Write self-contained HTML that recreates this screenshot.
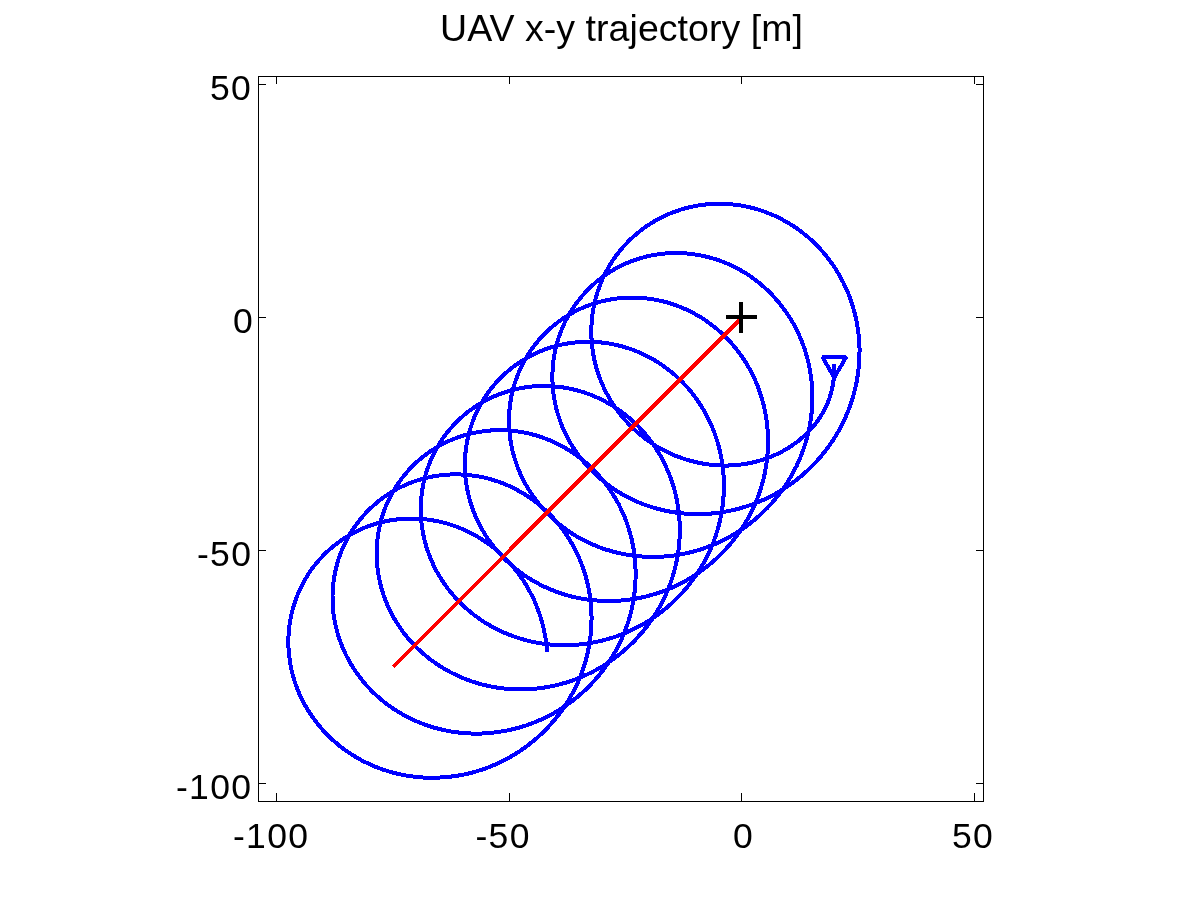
<!DOCTYPE html>
<html>
<head>
<meta charset="utf-8">
<title>UAV x-y trajectory</title>
<style>
html,body{margin:0;padding:0;background:#fff;width:1200px;height:900px;overflow:hidden}
svg{display:block;position:absolute;left:0;top:0}
text{font-family:"Liberation Sans",Arial,Helvetica,sans-serif;fill:#000}
.tick{font-size:35.5px;letter-spacing:1.3px;font-kerning:none}
.title{font-size:37.5px}
</style>
</head>
<body>
<svg width="1200" height="900" viewBox="0 0 1200 900">
<rect x="0" y="0" width="1200" height="900" fill="#fff"/>
<!-- data -->
<g fill="none" shape-rendering="crispEdges" stroke-linejoin="round">
<path stroke="#00f" stroke-width="4" d="M834.4 363.6 L834.4 367.3 L834.3 371.1 L834.1 374.8 L833.8 378.5 L833.3 382.2 L832.7 385.9 L831.9 389.5 L831.0 393.1 L829.9 396.7 L828.7 400.2 L827.3 403.7 L825.7 407.1 L824.1 410.4 L822.2 413.6 L820.3 416.8 L818.2 419.9 L816.0 422.9 L813.7 425.9 L811.3 428.7 L808.8 431.4 L806.1 434.1 L803.4 436.6 L800.6 439.1 L797.7 441.4 L794.7 443.6 L791.7 445.8 L788.5 447.8 L785.4 449.7 L782.1 451.5 L778.8 453.2 L775.4 454.8 L772.0 456.3 L768.5 457.7 L765.0 458.9 L761.5 460.1 L757.9 461.1 L754.3 462.1 L750.7 462.9 L747.0 463.6 L743.4 464.2 L739.7 464.7 L736.0 465.0 L732.2 465.3 L728.5 465.5 L724.8 465.5 L721.1 465.5 L717.4 465.3 L713.6 465.0 L709.9 464.6 L706.2 464.1 L702.6 463.5 L698.9 462.8 L695.3 462.0 L691.7 461.1 L688.1 460.1 L684.5 459.0 L681.0 457.8 L677.5 456.5 L674.0 455.2 L670.6 453.7 L667.3 452.1 L663.9 450.4 L660.7 448.6 L657.4 446.8 L654.2 444.8 L651.1 442.8 L648.1 440.7 L645.1 438.5 L642.1 436.2 L639.2 433.9 L636.4 431.4 L633.7 428.9 L631.0 426.3 L628.4 423.6 L625.8 420.9 L623.4 418.1 L621.0 415.2 L618.7 412.3 L616.5 409.3 L614.4 406.3 L612.3 403.1 L610.3 400.0 L608.5 396.8 L606.7 393.5 L605.0 390.2 L603.4 386.8 L601.9 383.4 L600.5 379.9 L599.2 376.4 L597.9 372.9 L596.8 369.4 L595.8 365.8 L594.9 362.2 L594.1 358.5 L593.4 354.9 L592.8 351.2 L592.3 347.5 L591.9 343.8 L591.6 340.1 L591.4 336.3 L591.3 332.6 L591.3 328.9 L591.5 325.2 L591.7 321.4 L592.1 317.7 L592.5 314.0 L593.1 310.3 L593.8 306.7 L594.5 303.0 L595.4 299.4 L596.4 295.8 L597.5 292.2 L598.7 288.7 L600.0 285.2 L601.4 281.7 L602.8 278.3 L604.4 275.0 L606.1 271.6 L607.9 268.4 L609.8 265.1 L611.8 262.0 L613.8 258.9 L616.0 255.8 L618.3 252.9 L620.6 250.0 L623.0 247.1 L625.5 244.4 L628.1 241.7 L630.7 239.1 L633.5 236.5 L636.3 234.1 L639.2 231.7 L642.1 229.4 L645.1 227.2 L648.2 225.1 L651.3 223.1 L654.5 221.2 L657.8 219.4 L661.0 217.6 L664.4 216.0 L667.8 214.5 L671.2 213.0 L674.7 211.7 L678.2 210.5 L681.8 209.3 L685.3 208.3 L689.0 207.4 L692.6 206.6 L696.2 205.8 L699.9 205.2 L703.6 204.7 L707.3 204.3 L711.0 204.0 L714.7 203.9 L718.5 203.8 L722.2 203.8 L725.9 203.9 L729.6 204.2 L733.3 204.5 L737.0 205.0 L740.7 205.5 L744.4 206.2 L748.0 206.9 L751.6 207.8 L755.2 208.7 L758.8 209.8 L762.4 211.0 L765.9 212.2 L769.3 213.6 L772.8 215.0 L776.2 216.5 L779.5 218.2 L782.8 219.9 L786.1 221.7 L789.3 223.6 L792.4 225.5 L795.6 227.6 L798.6 229.7 L801.6 232.0 L804.5 234.3 L807.4 236.6 L810.2 239.1 L812.9 241.6 L815.6 244.2 L818.2 246.9 L820.8 249.6 L823.2 252.4 L825.6 255.2 L827.9 258.2 L830.2 261.1 L832.4 264.2 L834.5 267.2 L836.5 270.4 L838.4 273.6 L840.3 276.8 L842.0 280.1 L843.7 283.4 L845.3 286.8 L846.8 290.2 L848.3 293.6 L849.6 297.1 L850.9 300.6 L852.1 304.1 L853.2 307.7 L854.2 311.3 L855.1 314.9 L856.0 318.5 L856.7 322.2 L857.4 325.9 L857.9 329.5 L858.4 333.2 L858.8 336.9 L859.1 340.7 L859.3 344.4 L859.5 348.1 L859.5 351.8 L859.4 355.6 L859.3 359.3 L859.1 363.0 L858.8 366.7 L858.4 370.4 L857.9 374.1 L857.3 377.8 L856.7 381.5 L856.0 385.1 L855.1 388.8 L854.2 392.4 L853.2 396.0 L852.2 399.6 L851.0 403.1 L849.8 406.6 L848.5 410.1 L847.1 413.6 L845.6 417.0 L844.0 420.4 L842.4 423.7 L840.7 427.1 L838.9 430.3 L837.1 433.6 L835.2 436.8 L833.2 439.9 L831.1 443.0 L829.0 446.1 L826.7 449.1 L824.5 452.0 L822.1 454.9 L819.7 457.8 L817.3 460.6 L814.7 463.3 L812.1 466.0 L809.5 468.6 L806.8 471.1 L804.0 473.6 L801.2 476.1 L798.3 478.4 L795.4 480.7 L792.4 483.0 L789.3 485.1 L786.3 487.2 L783.1 489.2 L780.0 491.2 L776.7 493.1 L773.5 494.9 L770.2 496.6 L766.8 498.3 L763.5 499.8 L760.1 501.3 L756.6 502.7 L753.1 504.1 L749.6 505.3 L746.1 506.5 L742.5 507.6 L739.0 508.6 L735.4 509.6 L731.7 510.4 L728.1 511.2 L724.4 511.8 L720.7 512.4 L717.1 512.9 L713.4 513.3 L709.6 513.7 L705.9 513.9 L702.2 514.1 L698.5 514.1 L694.8 514.1 L691.0 514.0 L687.3 513.8 L683.6 513.5 L679.9 513.1 L676.2 512.6 L672.5 512.1 L668.9 511.4 L665.2 510.7 L661.6 509.8 L658.0 508.9 L654.4 507.9 L650.8 506.8 L647.3 505.6 L643.8 504.4 L640.3 503.0 L636.9 501.6 L633.5 500.1 L630.1 498.4 L626.8 496.7 L623.5 495.0 L620.3 493.1 L617.1 491.2 L614.0 489.1 L610.9 487.0 L607.9 484.8 L605.0 482.6 L602.1 480.2 L599.2 477.8 L596.5 475.3 L593.7 472.8 L591.1 470.2 L588.5 467.5 L586.0 464.7 L583.6 461.9 L581.3 459.0 L579.0 456.0 L576.8 453.0 L574.7 449.9 L572.7 446.8 L570.8 443.6 L568.9 440.4 L567.2 437.1 L565.5 433.7 L563.9 430.4 L562.4 426.9 L561.1 423.5 L559.8 420.0 L558.6 416.4 L557.5 412.9 L556.5 409.3 L555.6 405.6 L554.9 402.0 L554.2 398.3 L553.6 394.6 L553.2 390.9 L552.8 387.2 L552.6 383.5 L552.4 379.8 L552.4 376.1 L552.5 372.3 L552.7 368.6 L553.0 364.9 L553.4 361.2 L553.9 357.5 L554.5 353.8 L555.3 350.2 L556.1 346.5 L557.1 342.9 L558.1 339.3 L559.3 335.8 L560.6 332.3 L562.0 328.8 L563.4 325.4 L565.0 322.0 L566.7 318.7 L568.5 315.4 L570.4 312.2 L572.4 309.1 L574.4 306.0 L576.6 302.9 L578.9 300.0 L581.2 297.1 L583.6 294.3 L586.2 291.5 L588.8 288.8 L591.4 286.3 L594.2 283.7 L597.0 281.3 L599.9 279.0 L602.9 276.8 L606.0 274.6 L609.1 272.5 L612.2 270.6 L615.4 268.7 L618.7 267.0 L622.1 265.3 L625.4 263.7 L628.9 262.3 L632.3 260.9 L635.8 259.7 L639.4 258.5 L643.0 257.5 L646.6 256.5 L650.2 255.7 L653.9 255.0 L657.5 254.4 L661.2 253.9 L664.9 253.5 L668.6 253.2 L672.4 253.1 L676.1 253.0 L679.8 253.1 L683.5 253.2 L687.2 253.5 L690.9 253.9 L694.6 254.4 L698.3 255.0 L702.0 255.7 L705.6 256.5 L709.2 257.4 L712.8 258.4 L716.4 259.5 L719.9 260.7 L723.4 262.0 L726.8 263.4 L730.2 264.9 L733.6 266.5 L736.9 268.2 L740.2 270.0 L743.4 271.9 L746.6 273.8 L749.7 275.9 L752.7 278.0 L755.7 280.2 L758.7 282.5 L761.5 284.9 L764.3 287.3 L767.1 289.9 L769.7 292.5 L772.3 295.1 L774.9 297.9 L777.3 300.7 L779.7 303.5 L782.0 306.5 L784.2 309.5 L786.4 312.5 L788.5 315.6 L790.5 318.8 L792.4 322.0 L794.2 325.2 L795.9 328.5 L797.6 331.8 L799.2 335.2 L800.6 338.6 L802.0 342.1 L803.4 345.6 L804.6 349.1 L805.7 352.7 L806.8 356.2 L807.7 359.8 L808.6 363.5 L809.4 367.1 L810.0 370.8 L810.6 374.5 L811.2 378.2 L811.6 381.9 L811.9 385.6 L812.1 389.3 L812.3 393.0 L812.3 396.8 L812.3 400.5 L812.2 404.2 L812.0 407.9 L811.7 411.6 L811.3 415.4 L810.8 419.1 L810.2 422.7 L809.6 426.4 L808.9 430.1 L808.0 433.7 L807.1 437.3 L806.1 440.9 L805.0 444.5 L803.9 448.0 L802.6 451.5 L801.3 455.0 L799.9 458.5 L798.4 461.9 L796.9 465.3 L795.2 468.6 L793.5 471.9 L791.7 475.2 L789.8 478.4 L787.9 481.6 L785.9 484.7 L783.8 487.8 L781.6 490.9 L779.4 493.8 L777.1 496.8 L774.7 499.7 L772.3 502.5 L769.8 505.3 L767.2 508.0 L764.6 510.6 L761.9 513.2 L759.2 515.7 L756.4 518.2 L753.5 520.6 L750.6 522.9 L747.7 525.2 L744.7 527.4 L741.6 529.5 L738.5 531.5 L735.3 533.5 L732.1 535.4 L728.9 537.3 L725.6 539.0 L722.3 540.7 L718.9 542.3 L715.5 543.8 L712.1 545.3 L708.6 546.6 L705.1 547.9 L701.6 549.1 L698.0 550.2 L694.5 551.3 L690.9 552.2 L687.2 553.1 L683.6 553.8 L679.9 554.5 L676.3 555.1 L672.6 555.7 L668.9 556.1 L665.2 556.4 L661.5 556.7 L657.7 556.8 L654.0 556.9 L650.3 556.9 L646.6 556.8 L642.9 556.6 L639.1 556.3 L635.4 555.9 L631.7 555.4 L628.1 554.9 L624.4 554.2 L620.7 553.5 L617.1 552.7 L613.5 551.8 L609.9 550.7 L606.4 549.7 L602.8 548.5 L599.3 547.2 L595.9 545.8 L592.4 544.4 L589.0 542.8 L585.7 541.2 L582.4 539.5 L579.1 537.7 L575.9 535.9 L572.7 533.9 L569.6 531.9 L566.5 529.7 L563.5 527.5 L560.6 525.3 L557.7 522.9 L554.9 520.5 L552.1 518.0 L549.4 515.4 L546.8 512.8 L544.2 510.1 L541.7 507.3 L539.3 504.4 L537.0 501.5 L534.8 498.5 L532.6 495.5 L530.5 492.4 L528.5 489.3 L526.6 486.1 L524.8 482.8 L523.1 479.5 L521.4 476.2 L519.9 472.8 L518.5 469.3 L517.1 465.9 L515.9 462.3 L514.7 458.8 L513.7 455.2 L512.7 451.6 L511.9 448.0 L511.1 444.3 L510.5 440.6 L510.0 436.9 L509.6 433.2 L509.3 429.5 L509.1 425.8 L509.0 422.1 L509.0 418.3 L509.1 414.6 L509.4 410.9 L509.7 407.2 L510.2 403.5 L510.8 399.8 L511.4 396.1 L512.2 392.5 L513.1 388.9 L514.1 385.3 L515.2 381.7 L516.5 378.2 L517.8 374.7 L519.2 371.3 L520.8 367.9 L522.4 364.5 L524.1 361.2 L526.0 358.0 L527.9 354.8 L529.9 351.7 L532.1 348.6 L534.3 345.6 L536.6 342.7 L539.0 339.8 L541.5 337.1 L544.0 334.4 L546.7 331.7 L549.4 329.2 L552.2 326.8 L555.1 324.4 L558.0 322.1 L561.1 319.9 L564.1 317.8 L567.3 315.8 L570.5 313.9 L573.8 312.1 L577.1 310.4 L580.4 308.8 L583.8 307.3 L587.3 305.9 L590.8 304.6 L594.3 303.5 L597.9 302.4 L601.5 301.4 L605.1 300.6 L608.7 299.8 L612.4 299.2 L616.1 298.6 L619.8 298.2 L623.5 297.9 L627.2 297.7 L631.0 297.6 L634.7 297.6 L638.4 297.8 L642.1 298.0 L645.8 298.3 L649.5 298.8 L653.2 299.4 L656.9 300.0 L660.5 300.8 L664.1 301.7 L667.7 302.6 L671.3 303.7 L674.8 304.9 L678.3 306.2 L681.8 307.6 L685.2 309.1 L688.6 310.6 L691.9 312.3 L695.2 314.1 L698.4 315.9 L701.6 317.8 L704.7 319.9 L707.8 322.0 L710.8 324.2 L713.7 326.5 L716.6 328.8 L719.4 331.2 L722.2 333.8 L724.9 336.3 L727.5 339.0 L730.1 341.7 L732.5 344.5 L734.9 347.3 L737.3 350.3 L739.5 353.2 L741.7 356.3 L743.8 359.4 L745.8 362.5 L747.7 365.7 L749.5 368.9 L751.3 372.2 L753.0 375.5 L754.6 378.9 L756.1 382.3 L757.5 385.8 L758.8 389.3 L760.0 392.8 L761.2 396.3 L762.3 399.9 L763.2 403.5 L764.1 407.1 L764.9 410.8 L765.6 414.4 L766.2 418.1 L766.8 421.8 L767.2 425.5 L767.5 429.2 L767.8 432.9 L767.9 436.7 L768.0 440.4 L768.0 444.1 L767.9 447.8 L767.7 451.6 L767.4 455.3 L767.0 459.0 L766.6 462.7 L766.0 466.4 L765.4 470.1 L764.7 473.7 L763.9 477.4 L763.0 481.0 L762.0 484.6 L760.9 488.1 L759.8 491.7 L758.5 495.2 L757.2 498.7 L755.8 502.2 L754.4 505.6 L752.8 509.0 L751.2 512.3 L749.5 515.6 L747.7 518.9 L745.8 522.1 L743.9 525.3 L741.9 528.5 L739.8 531.6 L737.6 534.6 L735.4 537.6 L733.1 540.5 L730.8 543.4 L728.4 546.3 L725.9 549.0 L723.3 551.7 L720.7 554.4 L718.0 557.0 L715.3 559.5 L712.5 562.0 L709.7 564.4 L706.8 566.8 L703.8 569.0 L700.8 571.2 L697.8 573.4 L694.7 575.4 L691.5 577.4 L688.3 579.3 L685.1 581.2 L681.8 582.9 L678.5 584.6 L675.1 586.2 L671.7 587.8 L668.3 589.2 L664.8 590.6 L661.3 591.9 L657.8 593.1 L654.3 594.2 L650.7 595.2 L647.1 596.2 L643.5 597.1 L639.8 597.9 L636.2 598.6 L632.5 599.2 L628.8 599.7 L625.1 600.1 L621.4 600.5 L617.7 600.8 L614.0 600.9 L610.2 601.0 L606.5 601.0 L602.8 600.9 L599.1 600.7 L595.4 600.4 L591.7 600.1 L588.0 599.6 L584.3 599.1 L580.6 598.4 L577.0 597.7 L573.3 596.9 L569.7 596.0 L566.1 595.0 L562.6 593.9 L559.0 592.7 L555.5 591.4 L552.1 590.1 L548.6 588.6 L545.2 587.1 L541.9 585.5 L538.6 583.8 L535.3 582.0 L532.1 580.2 L528.9 578.2 L525.8 576.2 L522.7 574.1 L519.7 571.9 L516.7 569.6 L513.8 567.3 L511.0 564.8 L508.2 562.3 L505.5 559.8 L502.9 557.1 L500.3 554.4 L497.9 551.7 L495.4 548.8 L493.1 545.9 L490.9 542.9 L488.7 539.9 L486.6 536.8 L484.6 533.7 L482.7 530.5 L480.9 527.2 L479.1 523.9 L477.5 520.6 L475.9 517.2 L474.5 513.8 L473.1 510.3 L471.9 506.8 L470.7 503.2 L469.7 499.7 L468.7 496.0 L467.9 492.4 L467.1 488.8 L466.5 485.1 L465.9 481.4 L465.5 477.7 L465.2 474.0 L465.0 470.3 L464.9 466.5 L464.9 462.8 L465.0 459.1 L465.3 455.3 L465.6 451.6 L466.1 447.9 L466.6 444.2 L467.3 440.6 L468.1 436.9 L469.0 433.3 L470.0 429.7 L471.1 426.2 L472.3 422.6 L473.6 419.1 L475.0 415.7 L476.6 412.3 L478.2 409.0 L479.9 405.6 L481.8 402.4 L483.7 399.2 L485.7 396.1 L487.8 393.0 L490.0 390.0 L492.3 387.1 L494.7 384.2 L497.2 381.4 L499.8 378.7 L502.4 376.1 L505.1 373.6 L507.9 371.1 L510.8 368.7 L513.8 366.5 L516.8 364.3 L519.8 362.2 L523.0 360.2 L526.2 358.3 L529.4 356.4 L532.7 354.7 L536.1 353.1 L539.5 351.6 L543.0 350.2 L546.5 348.9 L550.0 347.7 L553.5 346.7 L557.1 345.7 L560.8 344.8 L564.4 344.1 L568.1 343.4 L571.8 342.9 L575.5 342.4 L579.2 342.1 L582.9 341.9 L586.6 341.8 L590.3 341.8 L594.1 342.0 L597.8 342.2 L601.5 342.5 L605.2 343.0 L608.9 343.5 L612.5 344.2 L616.2 344.9 L619.8 345.8 L623.4 346.8 L626.9 347.9 L630.5 349.0 L634.0 350.3 L637.4 351.7 L640.9 353.2 L644.2 354.7 L647.6 356.4 L650.9 358.2 L654.1 360.0 L657.3 361.9 L660.4 364.0 L663.5 366.1 L666.5 368.3 L669.4 370.5 L672.3 372.9 L675.2 375.3 L677.9 377.8 L680.6 380.4 L683.2 383.0 L685.8 385.8 L688.3 388.5 L690.7 391.4 L693.0 394.3 L695.2 397.3 L697.4 400.3 L699.5 403.4 L701.5 406.5 L703.5 409.7 L705.3 412.9 L707.1 416.2 L708.7 419.6 L710.3 422.9 L711.8 426.3 L713.3 429.8 L714.6 433.3 L715.8 436.8 L717.0 440.3 L718.1 443.9 L719.0 447.5 L719.9 451.1 L720.7 454.8 L721.4 458.4 L722.1 462.1 L722.6 465.8 L723.0 469.5 L723.4 473.2 L723.6 476.9 L723.8 480.6 L723.9 484.4 L723.9 488.1 L723.8 491.8 L723.6 495.6 L723.3 499.3 L722.9 503.0 L722.5 506.7 L721.9 510.4 L721.3 514.0 L720.6 517.7 L719.8 521.3 L718.9 525.0 L717.9 528.6 L716.8 532.1 L715.7 535.7 L714.5 539.2 L713.2 542.7 L711.8 546.2 L710.3 549.6 L708.8 553.0 L707.1 556.3 L705.4 559.6 L703.6 562.9 L701.8 566.2 L699.9 569.3 L697.9 572.5 L695.8 575.6 L693.6 578.6 L691.4 581.6 L689.1 584.6 L686.8 587.5 L684.4 590.3 L681.9 593.1 L679.3 595.8 L676.7 598.5 L674.0 601.1 L671.3 603.6 L668.5 606.1 L665.7 608.5 L662.8 610.8 L659.8 613.1 L656.8 615.3 L653.8 617.4 L650.7 619.5 L647.5 621.5 L644.3 623.4 L641.1 625.3 L637.8 627.0 L634.5 628.7 L631.2 630.3 L627.8 631.9 L624.3 633.3 L620.9 634.7 L617.4 636.0 L613.9 637.2 L610.3 638.3 L606.7 639.4 L603.1 640.3 L599.5 641.2 L595.9 642.0 L592.2 642.7 L588.6 643.3 L584.9 643.9 L581.2 644.3 L577.5 644.7 L573.8 644.9 L570.0 645.1 L566.3 645.2 L562.6 645.2 L558.9 645.1 L555.1 644.9 L551.4 644.6 L547.7 644.3 L544.0 643.8 L540.3 643.3 L536.7 642.6 L533.0 641.9 L529.4 641.1 L525.8 640.2 L522.2 639.2 L518.6 638.1 L515.1 636.9 L511.6 635.7 L508.1 634.3 L504.7 632.9 L501.3 631.4 L497.9 629.8 L494.6 628.1 L491.3 626.3 L488.1 624.4 L484.9 622.5 L481.8 620.5 L478.7 618.3 L475.7 616.2 L472.8 613.9 L469.9 611.6 L467.0 609.1 L464.2 606.7 L461.5 604.1 L458.9 601.5 L456.3 598.7 L453.9 596.0 L451.4 593.1 L449.1 590.2 L446.8 587.3 L444.7 584.2 L442.6 581.2 L440.6 578.0 L438.7 574.8 L436.8 571.6 L435.1 568.3 L433.4 564.9 L431.9 561.5 L430.4 558.1 L429.1 554.6 L427.8 551.1 L426.6 547.6 L425.6 544.0 L424.6 540.4 L423.8 536.8 L423.0 533.1 L422.4 529.5 L421.8 525.8 L421.4 522.1 L421.1 518.3 L420.9 514.6 L420.8 510.9 L420.8 507.2 L420.9 503.4 L421.1 499.7 L421.5 496.0 L421.9 492.3 L422.5 488.6 L423.1 484.9 L423.9 481.3 L424.8 477.7 L425.8 474.1 L426.9 470.5 L428.1 467.0 L429.4 463.5 L430.8 460.1 L432.4 456.7 L434.0 453.3 L435.7 450.0 L437.5 446.7 L439.5 443.6 L441.5 440.4 L443.6 437.3 L445.8 434.3 L448.1 431.4 L450.5 428.6 L453.0 425.8 L455.5 423.1 L458.2 420.4 L460.9 417.9 L463.7 415.4 L466.5 413.0 L469.5 410.7 L472.5 408.6 L475.6 406.4 L478.7 404.4 L481.9 402.5 L485.2 400.7 L488.5 399.0 L491.8 397.4 L495.2 395.9 L498.7 394.5 L502.2 393.2 L505.7 392.0 L509.3 390.9 L512.8 389.9 L516.5 389.0 L520.1 388.3 L523.8 387.6 L527.5 387.1 L531.2 386.6 L534.9 386.3 L538.6 386.1 L542.3 386.0 L546.0 386.0 L549.8 386.1 L553.5 386.4 L557.2 386.7 L560.9 387.1 L564.6 387.7 L568.2 388.3 L571.9 389.1 L575.5 390.0 L579.1 390.9 L582.7 392.0 L586.2 393.2 L589.7 394.4 L593.2 395.8 L596.6 397.3 L600.0 398.9 L603.3 400.5 L606.6 402.3 L609.8 404.1 L613.0 406.0 L616.1 408.0 L619.2 410.1 L622.2 412.3 L625.2 414.6 L628.1 417.0 L630.9 419.4 L633.7 421.9 L636.4 424.4 L639.0 427.1 L641.5 429.8 L644.0 432.6 L646.4 435.4 L648.8 438.3 L651.0 441.3 L653.2 444.3 L655.3 447.4 L657.3 450.6 L659.2 453.7 L661.1 457.0 L662.9 460.3 L664.5 463.6 L666.1 467.0 L667.6 470.4 L669.1 473.8 L670.4 477.3 L671.7 480.8 L672.8 484.3 L673.9 487.9 L674.9 491.5 L675.8 495.1 L676.6 498.8 L677.3 502.4 L677.9 506.1 L678.4 509.8 L678.9 513.5 L679.2 517.2 L679.5 520.9 L679.7 524.7 L679.8 528.4 L679.8 532.1 L679.7 535.8 L679.5 539.6 L679.2 543.3 L678.8 547.0 L678.4 550.7 L677.8 554.4 L677.2 558.1 L676.5 561.7 L675.7 565.4 L674.8 569.0 L673.8 572.6 L672.8 576.2 L671.6 579.7 L670.4 583.2 L669.1 586.7 L667.7 590.2 L666.3 593.6 L664.7 597.0 L663.1 600.4 L661.4 603.7 L659.6 607.0 L657.8 610.2 L655.8 613.4 L653.8 616.5 L651.8 619.6 L649.6 622.7 L647.4 625.7 L645.1 628.6 L642.8 631.5 L640.3 634.3 L637.9 637.1 L635.3 639.9 L632.7 642.5 L630.1 645.1 L627.3 647.7 L624.5 650.1 L621.7 652.5 L618.8 654.9 L615.9 657.2 L612.9 659.4 L609.8 661.5 L606.7 663.6 L603.6 665.6 L600.4 667.5 L597.1 669.4 L593.9 671.1 L590.5 672.8 L587.2 674.4 L583.8 676.0 L580.4 677.4 L576.9 678.8 L573.4 680.1 L569.9 681.3 L566.4 682.5 L562.8 683.5 L559.2 684.5 L555.6 685.4 L551.9 686.2 L548.3 686.9 L544.6 687.5 L540.9 688.0 L537.2 688.5 L533.5 688.8 L529.8 689.1 L526.1 689.3 L522.4 689.4 L518.6 689.4 L514.9 689.3 L511.2 689.1 L507.5 688.8 L503.8 688.5 L500.1 688.0 L496.4 687.5 L492.7 686.8 L489.1 686.1 L485.4 685.3 L481.8 684.4 L478.2 683.4 L474.7 682.3 L471.1 681.2 L467.6 679.9 L464.2 678.6 L460.7 677.1 L457.3 675.6 L454.0 674.0 L450.6 672.3 L447.4 670.6 L444.1 668.7 L441.0 666.8 L437.8 664.7 L434.7 662.6 L431.7 660.5 L428.8 658.2 L425.9 655.9 L423.0 653.4 L420.3 651.0 L417.5 648.4 L414.9 645.8 L412.3 643.1 L409.8 640.3 L407.4 637.5 L405.1 634.6 L402.8 631.6 L400.6 628.6 L398.6 625.5 L396.5 622.3 L394.6 619.2 L392.8 615.9 L391.0 612.6 L389.4 609.3 L387.8 605.9 L386.4 602.5 L385.0 599.0 L383.7 595.5 L382.6 591.9 L381.5 588.4 L380.6 584.8 L379.7 581.1 L378.9 577.5 L378.3 573.8 L377.7 570.1 L377.3 566.4 L377.0 562.7 L376.8 559.0 L376.7 555.3 L376.7 551.5 L376.8 547.8 L377.0 544.1 L377.3 540.4 L377.8 536.7 L378.3 533.0 L379.0 529.3 L379.8 525.7 L380.6 522.0 L381.6 518.4 L382.7 514.9 L383.9 511.3 L385.2 507.8 L386.6 504.4 L388.2 501.0 L389.8 497.6 L391.5 494.3 L393.3 491.1 L395.3 487.9 L397.3 484.7 L399.4 481.7 L401.6 478.7 L403.9 475.7 L406.3 472.9 L408.7 470.1 L411.3 467.4 L413.9 464.7 L416.6 462.2 L419.4 459.7 L422.3 457.3 L425.2 455.0 L428.2 452.8 L431.3 450.7 L434.4 448.7 L437.6 446.8 L440.9 445.0 L444.2 443.3 L447.5 441.6 L450.9 440.1 L454.4 438.7 L457.9 437.4 L461.4 436.2 L465.0 435.1 L468.6 434.1 L472.2 433.3 L475.8 432.5 L479.5 431.8 L483.2 431.3 L486.9 430.8 L490.6 430.5 L494.3 430.3 L498.0 430.2 L501.7 430.2 L505.5 430.3 L509.2 430.5 L512.9 430.9 L516.6 431.3 L520.3 431.8 L523.9 432.5 L527.6 433.2 L531.2 434.1 L534.8 435.1 L538.4 436.1 L541.9 437.3 L545.4 438.6 L548.9 439.9 L552.3 441.4 L555.7 443.0 L559.0 444.6 L562.3 446.4 L565.5 448.2 L568.7 450.1 L571.9 452.1 L574.9 454.2 L578.0 456.4 L580.9 458.7 L583.8 461.0 L586.7 463.4 L589.4 465.9 L592.1 468.5 L594.7 471.2 L597.3 473.9 L599.8 476.6 L602.2 479.5 L604.5 482.4 L606.8 485.4 L609.0 488.4 L611.1 491.5 L613.1 494.6 L615.0 497.8 L616.9 501.0 L618.7 504.3 L620.3 507.6 L621.9 511.0 L623.5 514.4 L624.9 517.8 L626.2 521.3 L627.5 524.8 L628.6 528.4 L629.7 531.9 L630.7 535.5 L631.6 539.1 L632.4 542.8 L633.1 546.4 L633.8 550.1 L634.3 553.8 L634.8 557.5 L635.1 561.2 L635.4 564.9 L635.5 568.7 L635.6 572.4 L635.6 576.1 L635.5 579.9 L635.4 583.6 L635.1 587.3 L634.7 591.0 L634.3 594.7 L633.7 598.4 L633.1 602.1 L632.4 605.7 L631.6 609.4 L630.7 613.0 L629.8 616.6 L628.7 620.2 L627.6 623.7 L626.3 627.3 L625.0 630.7 L623.7 634.2 L622.2 637.6 L620.7 641.0 L619.0 644.4 L617.3 647.7 L615.6 651.0 L613.7 654.2 L611.8 657.4 L609.8 660.6 L607.7 663.7 L605.6 666.7 L603.4 669.7 L601.1 672.7 L598.8 675.6 L596.3 678.4 L593.9 681.2 L591.3 683.9 L588.7 686.6 L586.1 689.2 L583.3 691.7 L580.6 694.2 L577.7 696.6 L574.8 699.0 L571.9 701.3 L568.9 703.5 L565.8 705.6 L562.7 707.7 L559.6 709.7 L556.4 711.6 L553.2 713.5 L549.9 715.2 L546.6 716.9 L543.2 718.6 L539.8 720.1 L536.4 721.6 L533.0 722.9 L529.5 724.2 L526.0 725.5 L522.4 726.6 L518.8 727.7 L515.2 728.6 L511.6 729.5 L508.0 730.3 L504.3 731.0 L500.7 731.6 L497.0 732.2 L493.3 732.6 L489.6 733.0 L485.9 733.3 L482.1 733.5 L478.4 733.5 L474.7 733.6 L471.0 733.5 L467.2 733.3 L463.5 733.0 L459.8 732.7 L456.1 732.2 L452.4 731.7 L448.8 731.1 L445.1 730.3 L441.5 729.5 L437.9 728.6 L434.3 727.7 L430.7 726.6 L427.2 725.4 L423.7 724.2 L420.2 722.8 L416.8 721.4 L413.4 719.9 L410.0 718.3 L406.7 716.6 L403.4 714.8 L400.2 713.0 L397.0 711.0 L393.8 709.0 L390.8 706.9 L387.7 704.7 L384.8 702.5 L381.9 700.2 L379.0 697.7 L376.3 695.3 L373.5 692.7 L370.9 690.1 L368.3 687.4 L365.8 684.6 L363.4 681.8 L361.1 678.9 L358.8 675.9 L356.6 672.9 L354.5 669.8 L352.5 666.7 L350.6 663.5 L348.7 660.2 L347.0 657.0 L345.3 653.6 L343.8 650.2 L342.3 646.8 L340.9 643.3 L339.7 639.8 L338.5 636.3 L337.4 632.7 L336.5 629.1 L335.6 625.5 L334.8 621.8 L334.2 618.2 L333.6 614.5 L333.2 610.8 L332.9 607.1 L332.7 603.3 L332.5 599.6 L332.5 595.9 L332.6 592.2 L332.9 588.4 L333.2 584.7 L333.6 581.0 L334.2 577.3 L334.8 573.7 L335.6 570.0 L336.5 566.4 L337.5 562.8 L338.5 559.2 L339.7 555.7 L341.0 552.2 L342.5 548.7 L344.0 545.3 L345.6 542.0 L347.3 538.7 L349.1 535.4 L351.0 532.2 L353.0 529.1 L355.2 526.0 L357.4 523.0 L359.6 520.1 L362.0 517.2 L364.5 514.4 L367.0 511.7 L369.7 509.0 L372.4 506.5 L375.2 504.0 L378.0 501.6 L381.0 499.3 L384.0 497.1 L387.0 495.0 L390.2 493.0 L393.4 491.1 L396.6 489.2 L399.9 487.5 L403.3 485.9 L406.7 484.4 L410.1 483.0 L413.6 481.7 L417.1 480.5 L420.7 479.4 L424.3 478.4 L427.9 477.5 L431.5 476.7 L435.2 476.0 L438.9 475.5 L442.6 475.1 L446.3 474.7 L450.0 474.5 L453.7 474.4 L457.4 474.4 L461.2 474.5 L464.9 474.7 L468.6 475.0 L472.3 475.5 L476.0 476.0 L479.6 476.6 L483.3 477.4 L486.9 478.2 L490.5 479.2 L494.1 480.3 L497.6 481.4 L501.1 482.7 L504.6 484.1 L508.0 485.5 L511.4 487.1 L514.7 488.7 L518.0 490.5 L521.3 492.3 L524.5 494.2 L527.6 496.2 L530.7 498.3 L533.7 500.5 L536.7 502.8 L539.6 505.1 L542.4 507.5 L545.2 510.0 L547.9 512.6 L550.5 515.2 L553.1 517.9 L555.6 520.7 L558.0 523.5 L560.3 526.4 L562.6 529.4 L564.7 532.4 L566.9 535.5 L568.9 538.6 L570.8 541.8 L572.7 545.0 L574.5 548.3 L576.1 551.6 L577.7 555.0 L579.3 558.4 L580.7 561.9 L582.0 565.3 L583.3 568.8 L584.5 572.4 L585.6 575.9 L586.5 579.5 L587.4 583.2 L588.3 586.8 L589.0 590.5 L589.6 594.1 L590.2 597.8 L590.6 601.5 L591.0 605.2 L591.2 609.0 L591.4 612.7 L591.5 616.4 L591.5 620.1 L591.4 623.9 L591.2 627.6 L591.0 631.3 L590.6 635.0 L590.2 638.7 L589.6 642.4 L589.0 646.1 L588.3 649.7 L587.5 653.4 L586.6 657.0 L585.7 660.6 L584.6 664.2 L583.5 667.7 L582.3 671.3 L581.0 674.8 L579.6 678.2 L578.2 681.7 L576.6 685.1 L575.0 688.4 L573.3 691.7 L571.5 695.0 L569.7 698.3 L567.8 701.5 L565.8 704.6 L563.7 707.7 L561.6 710.8 L559.4 713.8 L557.1 716.7 L554.7 719.6 L552.3 722.5 L549.9 725.2 L547.3 728.0 L544.7 730.6 L542.1 733.2 L539.3 735.8 L536.6 738.3 L533.7 740.7 L530.8 743.0 L527.9 745.3 L524.9 747.5 L521.9 749.7 L518.8 751.8 L515.6 753.8 L512.4 755.7 L509.2 757.6 L505.9 759.3 L502.6 761.0 L499.3 762.7 L495.9 764.2 L492.5 765.7 L489.0 767.1 L485.5 768.4 L482.0 769.6 L478.4 770.7 L474.9 771.8 L471.3 772.8 L467.7 773.7 L464.0 774.5 L460.4 775.2 L456.7 775.8 L453.0 776.3 L449.3 776.8 L445.6 777.2 L441.9 777.4 L438.2 777.6 L434.5 777.7 L430.7 777.7 L427.0 777.7 L423.3 777.5 L419.6 777.2 L415.9 776.9 L412.2 776.4 L408.5 775.9 L404.8 775.3 L401.2 774.6 L397.5 773.8 L393.9 772.9 L390.3 771.9 L386.8 770.8 L383.2 769.7 L379.7 768.4 L376.2 767.1 L372.8 765.7 L369.4 764.1 L366.0 762.5 L362.7 760.9 L359.4 759.1 L356.2 757.2 L353.0 755.3 L349.9 753.3 L346.8 751.2 L343.8 749.0 L340.8 746.8 L337.9 744.4 L335.0 742.0 L332.3 739.6 L329.6 737.0 L326.9 734.4 L324.3 731.7 L321.8 728.9 L319.4 726.1 L317.1 723.2 L314.8 720.2 L312.6 717.2 L310.5 714.1 L308.5 711.0 L306.6 707.8 L304.7 704.6 L303.0 701.3 L301.3 698.0 L299.7 694.6 L298.3 691.1 L296.9 687.7 L295.6 684.2 L294.4 680.6 L293.4 677.1 L292.4 673.5 L291.5 669.8 L290.8 666.2 L290.1 662.5 L289.6 658.8 L289.1 655.1 L288.8 651.4 L288.5 647.7 L288.4 644.0 L288.4 640.2 L288.5 636.5 L288.7 632.8 L289.0 629.1 L289.5 625.4 L290.0 621.7 L290.7 618.0 L291.4 614.4 L292.3 610.7 L293.3 607.1 L294.4 603.6 L295.6 600.0 L296.9 596.5 L298.3 593.1 L299.8 589.7 L301.4 586.3 L303.1 583.0 L304.9 579.8 L306.8 576.6 L308.8 573.4 L310.9 570.3 L313.1 567.3 L315.4 564.4 L317.8 561.5 L320.3 558.7 L322.8 556.0 L325.4 553.3 L328.1 550.8 L330.9 548.3 L333.8 545.9 L336.7 543.6 L339.7 541.4 L342.8 539.3 L345.9 537.3 L349.1 535.3 L352.3 533.5 L355.6 531.8 L359.0 530.2 L362.4 528.6 L365.8 527.2 L369.3 525.9 L372.8 524.7 L376.4 523.6 L380.0 522.6 L383.6 521.7 L387.2 520.9 L390.9 520.3 L394.6 519.7 L398.3 519.3 L402.0 518.9 L405.7 518.7 L409.4 518.6 L413.1 518.6 L416.9 518.7 L420.6 518.9 L424.3 519.2 L428.0 519.6 L431.7 520.2 L435.3 520.8 L439.0 521.5 L442.6 522.4 L446.2 523.3 L449.8 524.4 L453.3 525.6 L456.8 526.8 L460.3 528.2 L463.7 529.6 L467.1 531.2 L470.5 532.8 L473.8 534.6 L477.0 536.4 L480.2 538.3 L483.3 540.3 L486.4 542.4 L489.4 544.6 L492.4 546.8 L495.3 549.2 L498.1 551.6 L500.9 554.1 L503.6 556.6 L506.3 559.3 L508.8 562.0 L511.3 564.7 L513.7 567.6 L516.1 570.5 L518.3 573.4 L520.5 576.5 L522.6 579.5 L524.7 582.7 L526.6 585.8 L528.5 589.1 L530.2 592.4 L531.9 595.7 L533.6 599.0 L535.1 602.4 L536.5 605.9 L537.9 609.4 L539.1 612.9 L540.3 616.4 L541.4 620.0 L542.4 623.6 L543.3 627.2 L544.1 630.8 L544.8 634.5 L545.5 638.1 L546.0 641.8 L546.5 645.5 L546.8 649.2 L547.0 652.0"/>
<path stroke="#00f" stroke-width="4" stroke-linejoin="bevel" d="M822.4 357 L846.2 357 L834.3 377.5 Z"/>
<path stroke="#f00" stroke-width="4" d="M741.5 318 L393 667"/>
<path stroke="#000" stroke-width="4" d="M726 317 H757 M741 302 V333"/>
</g>
<!-- axes -->
<g fill="none" stroke="#000" stroke-width="1" shape-rendering="crispEdges">
<rect x="258.5" y="76.5" width="725" height="725"/>
<path d="M276.5 801 V793 M509.5 801 V793 M741.5 801 V793 M974.5 801 V793"/>
<path d="M276.5 76 V84 M509.5 76 V84 M741.5 76 V84 M974.5 76 V84"/>
<path d="M258 84.5 H266 M258 317.5 H266 M258 550.5 H266 M258 783.5 H266"/>
<path d="M984 84.5 H976 M984 317.5 H976 M984 550.5 H976 M984 783.5 H976"/>
</g>
<!-- labels -->
<text class="title" x="440" y="41" textLength="363" lengthAdjust="spacing">UAV x-y trajectory [m]</text>
<g class="tick">
<text x="233" y="848">-100</text>
<text x="475.5" y="848">-50</text>
<text x="733" y="848">0</text>
<text x="952" y="848">50</text>
<text x="210" y="100">50</text>
<text x="233" y="333">0</text>
<text x="197" y="566">-50</text>
<text x="176" y="799">-100</text>
</g>
</svg>
</body>
</html>
